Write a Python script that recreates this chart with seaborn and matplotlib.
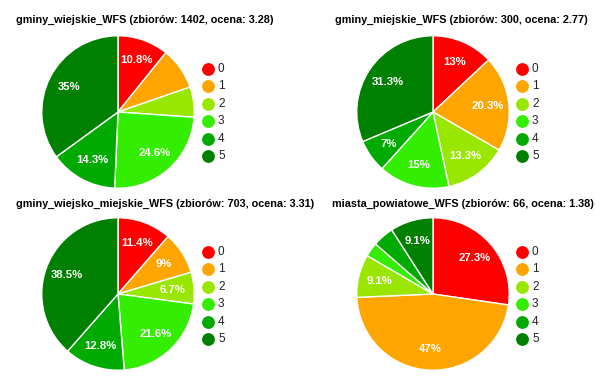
import matplotlib
matplotlib.use("Agg")
import matplotlib.pyplot as plt
from matplotlib.lines import Line2D
import seaborn as sns

sns.set_theme(style="white")
plt.rcParams['font.family'] = ['Liberation Sans', 'DejaVu Sans']

categories = ["0", "1", "2", "3", "4", "5"]
colors = ["#ff0000", "#ffa500", "#99e600", "#33ee00", "#00aa00", "#008000"]

titles = [
    "gminy_wiejskie_WFS (zbiorów: 1402, ocena: 3.28)",
    "gminy_miejskie_WFS (zbiorów: 300, ocena: 2.77)",
    "gminy_wiejsko_miejskie_WFS (zbiorów: 703, ocena: 3.31)",
    "miasta_powiatowe_WFS (zbiorów: 66, ocena: 1.38)",
]
values_wiejskie = [10.8, 8.9, 6.4, 24.6, 14.3, 35.0]
values_miejskie = [13.0, 20.3, 13.3, 15.0, 7.0, 31.3]
values_wiejsko_miejskie = [11.4, 9.0, 6.7, 21.6, 12.8, 38.5]
values_powiatowe = [27.3, 47.0, 9.1, 3.0, 4.5, 9.1]
labels_wiejskie = ["10.8%", "", "", "24.6%", "14.3%", "35%"]
labels_miejskie = ["13%", "20.3%", "13.3%", "15%", "7%", "31.3%"]
labels_wiejsko_miejskie = ["11.4%", "9%", "6.7%", "21.6%", "12.8%", "38.5%"]
labels_powiatowe = ["27.3%", "47%", "9.1%", "", "", "9.1%"]

all_values = [values_wiejskie, values_miejskie, values_wiejsko_miejskie, values_powiatowe]
all_labels = [labels_wiejskie, labels_miejskie, labels_wiejsko_miejskie, labels_powiatowe]

W, H = 609, 389
fig = plt.figure(figsize=(W / 100, H / 100), dpi=100)
fig.patch.set_facecolor("white")

# pixel layout: (pie center x, pie center y, radius, title x, title y, legend x, legend top y)
layout = [
    (118, 112, 77, 16, 20, 208, 69),
    (433, 112, 77, 335, 20, 522, 69),
    (118, 294, 77, 16, 204, 208, 252),
    (433, 294, 77, 332, 204, 522, 252),
]

for (cx, cy, r, tx, ty, lx, ly), title, vals, labs in zip(layout, titles, all_values, all_labels):
    ax = fig.add_axes([(cx - r) / W, (H - cy - r) / H, 2 * r / W, 2 * r / H])
    wedges, texts = ax.pie(vals, colors=colors, labels=labs, startangle=90, counterclock=False,
                           labeldistance=0.72, radius=1.0,
                           wedgeprops=dict(edgecolor="white", linewidth=1.0),
                           textprops=dict(color="white", fontsize=8.2, fontweight="bold",
                                          ha="center", va="center"))
    for t in texts:
        t.set_horizontalalignment("center")
        t.set_verticalalignment("center")
    ax.set_xlim(-1.01, 1.01)
    ax.set_ylim(-1.01, 1.01)
    ax.set_aspect("equal")
    ax.axis("off")
    fig.text(tx / W, 1 - ty / H, title, fontsize=7.8, fontweight="bold", color="#000000",
             ha="left", va="center")
    for i, (c, col) in enumerate(zip(categories, colors)):
        yy = ly + i * 17.4
        fig.add_artist(Line2D([lx / W], [1 - yy / H], marker="o", markersize=8.2,
                              markerfacecolor=col, markeredgecolor=col, linestyle="none",
                              transform=fig.transFigure))
        fig.text((lx + 10) / W, 1 - yy / H, c, fontsize=8.5, color="#222222",
                 ha="left", va="center")

fig.savefig("out.png", dpi=100, facecolor="white")
